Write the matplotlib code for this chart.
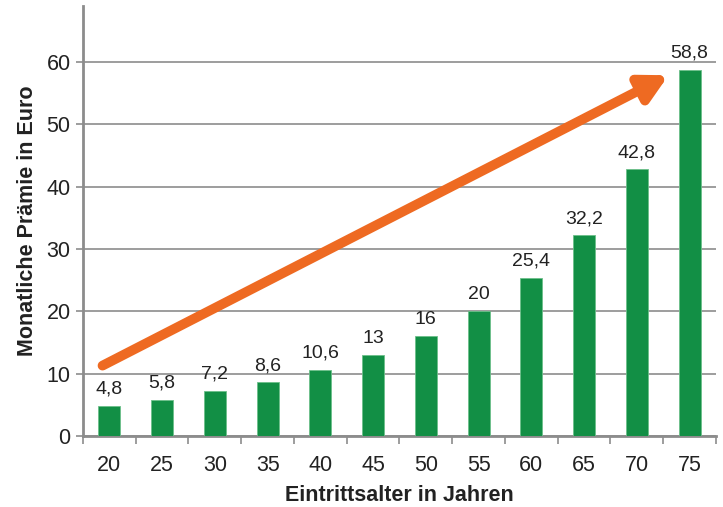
import matplotlib.pyplot as plt
import numpy as np

# Eintrittsalter und monatliche Prämie
alter = [20, 25, 30, 35, 40, 45, 50, 55, 60, 65, 70, 75]
praemie = [4.8, 5.8, 7.2, 8.6, 10.6, 13, 16, 20, 25.4, 32.2, 42.8, 58.8]
y_ticks = [0, 10, 20, 30, 40, 50, 60]

GREEN = "#128F45"
ORANGE = "#EE6A22"
GRID = "#8C8C8C"
TEXT = "#222222"

plt.rcParams["font.family"] = ["Liberation Sans", "DejaVu Sans"]

fig = plt.figure(figsize=(7.23, 5.07), dpi=100)
ax = fig.add_axes([0.1148, 0.140, 0.8755, 0.848])

x = np.arange(len(alter))
ax.bar(x, praemie, width=0.42, color=GREEN, edgecolor="#6CC08A",
       linewidth=0.6, zorder=3)

for xi, v in zip(x, praemie):
    txt = f"{v:g}".replace(".", ",")
    ax.annotate(txt, (xi, v), textcoords="offset points", xytext=(0, 6),
                ha="center", va="bottom", fontsize=14, color=TEXT, zorder=4)

# Trendpfeil
ax.annotate("", xy=(10.6, 57.9), xytext=(-0.13, 11.3),
            arrowprops=dict(arrowstyle="-|>,head_length=1.6,head_width=0.85",
                            color=ORANGE, lw=7, shrinkA=0, shrinkB=0),
            zorder=5)

ax.set_xlim(-0.5, len(alter) - 0.5)
ax.set_ylim(0, 69)
ax.set_yticks(y_ticks)
ax.set_xticks(x)
ax.set_xticklabels([str(a) for a in alter])
ax.set_xticks(np.arange(-0.5, len(alter)), minor=True)

ax.grid(True, axis="y", color=GRID, linewidth=1.2, zorder=0)
for s in ["top", "right"]:
    ax.spines[s].set_visible(False)
for s in ["left", "bottom"]:
    ax.spines[s].set_color(GRID)
    ax.spines[s].set_linewidth(2)

ax.tick_params(axis="x", which="major", length=0, labelsize=15.5, pad=14,
               labelcolor=TEXT)
ax.tick_params(axis="x", which="minor", length=6, width=1.2, color=GRID,
               direction="out")
ax.tick_params(axis="y", length=5, width=1.2, color=GRID, labelsize=15.5,
               labelcolor=TEXT, pad=4)

ax.set_xlabel("Eintrittsalter in Jahren", fontsize=15.5, fontweight="bold",
              color=TEXT, labelpad=6)
ax.set_ylabel("Monatliche Prämie in Euro", fontsize=15.5, fontweight="bold",
              color=TEXT, labelpad=6)

fig.savefig("out.png", dpi=100)
